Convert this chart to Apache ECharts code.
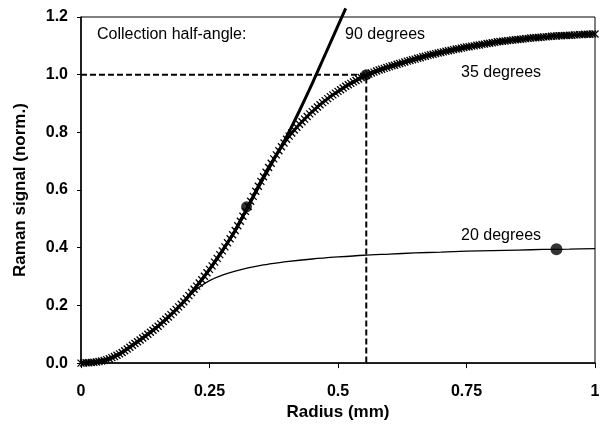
<!DOCTYPE html>
<html>
<head>
<meta charset="utf-8">
<script src="https://cdn.jsdelivr.net/npm/echarts@6/dist/echarts.min.js"></script>
<style>html,body{margin:0;padding:0;background:#fff;}#c{width:603px;height:426px;}</style>
</head>
<body>
<div id="c"></div>
<script>
// ---- data ----
const xTicks = [0, 0.25, 0.5, 0.75, 1];
const yTicks = [0.0, 0.2, 0.4, 0.6, 0.8, 1.0, 1.2];

// 35 degrees (dense hatched curve), radius step 0.005 from 0 to 1
const x35 = [0,0.005,0.01,0.015,0.02,0.025,0.03,0.035,0.04,0.045,0.05,0.055,0.06,0.065,0.07,0.075,0.08,0.085,0.09,0.095,
0.1,0.105,0.11,0.115,0.12,0.125,0.13,0.135,0.14,0.145,0.15,0.155,0.16,0.165,0.17,0.175,0.18,0.185,0.19,0.195,
0.2,0.205,0.21,0.215,0.22,0.225,0.23,0.235,0.24,0.245,0.25,0.255,0.26,0.265,0.27,0.275,0.28,0.285,0.29,0.295,
0.3,0.305,0.31,0.315,0.32,0.325,0.33,0.335,0.34,0.345,0.35,0.355,0.36,0.365,0.37,0.375,0.38,0.385,0.39,0.395,
0.4,0.405,0.41,0.415,0.42,0.425,0.43,0.435,0.44,0.445,0.45,0.455,0.46,0.465,0.47,0.475,0.48,0.485,0.49,0.495,
0.5,0.505,0.51,0.515,0.52,0.525,0.53,0.535,0.54,0.545,0.55,0.555,0.56,0.565,0.57,0.575,0.58,0.585,0.59,0.595,
0.6,0.605,0.61,0.615,0.62,0.625,0.63,0.635,0.64,0.645,0.65,0.655,0.66,0.665,0.67,0.675,0.68,0.685,0.69,0.695,
0.7,0.705,0.71,0.715,0.72,0.725,0.73,0.735,0.74,0.745,0.75,0.755,0.76,0.765,0.77,0.775,0.78,0.785,0.79,0.795,
0.8,0.805,0.81,0.815,0.82,0.825,0.83,0.835,0.84,0.845,0.85,0.855,0.86,0.865,0.87,0.875,0.88,0.885,0.89,0.895,
0.9,0.905,0.91,0.915,0.92,0.925,0.93,0.935,0.94,0.945,0.95,0.955,0.96,0.965,0.97,0.975,0.98,0.985,0.99,0.995,1.0];
const y35 = [0,0.0003,0.001,0.0015,0.002,0.003,0.004,0.0055,0.007,0.009,0.012,0.015,0.019,0.023,0.027,0.032,0.037,0.043,0.049,0.055,
0.062,0.068,0.074,0.08,0.087,0.093,0.1,0.107,0.114,0.121,0.128,0.136,0.144,0.152,0.16,0.168,0.177,0.186,0.195,0.204,
0.213,0.223,0.234,0.245,0.256,0.267,0.278,0.289,0.301,0.313,0.325,0.337,0.35,0.363,0.376,0.389,0.403,0.417,0.431,0.445,
0.46,0.476,0.492,0.509,0.526,0.543,0.561,0.578,0.596,0.613,0.63,0.646,0.662,0.678,0.693,0.708,0.722,0.736,0.75,0.763,
0.776,0.787,0.798,0.808,0.818,0.828,0.837,0.846,0.855,0.864,0.872,0.88,0.888,0.896,0.903,0.91,0.917,0.924,0.93,0.936,
0.942,0.948,0.954,0.96,0.965,0.97,0.975,0.98,0.985,0.99,0.994,0.998,1.002,1.006,1.009,1.013,1.016,1.019,1.022,1.025,
1.028,1.031,1.033,1.036,1.039,1.041,1.044,1.047,1.049,1.052,1.054,1.057,1.059,1.062,1.064,1.067,1.069,1.071,1.073,1.075,
1.077,1.079,1.081,1.083,1.085,1.087,1.089,1.09,1.092,1.094,1.096,1.097,1.099,1.1,1.102,1.103,1.105,1.106,1.108,1.109,
1.111,1.112,1.114,1.115,1.116,1.117,1.118,1.119,1.12,1.121,1.122,1.123,1.124,1.125,1.126,1.127,1.128,1.128,1.129,1.13,
1.131,1.131,1.132,1.133,1.134,1.134,1.135,1.135,1.136,1.136,1.137,1.137,1.138,1.138,1.139,1.139,1.14,1.14,1.14,1.141,1.141];

// 90 degrees (thick solid curve)
const x90 = [0,0.025,0.05,0.075,0.1,0.125,0.15,0.175,0.2,0.225,0.25,0.275,0.3,0.325,0.35,0.375,0.4,0.425,0.45,0.475,0.5,0.515];
const y90 = [0,0.003,0.012,0.032,0.062,0.094,0.128,0.168,0.213,0.267,0.325,0.39,0.46,0.543,0.625,0.705,0.785,0.875,0.97,1.07,1.17,1.23];

// 20 degrees (thin curve)
const x20 = [0,0.025,0.05,0.075,0.1,0.125,0.15,0.175,0.2,0.215,0.23,0.25,0.275,0.3,0.325,0.35,0.375,0.4,0.45,0.5,0.55,0.6,0.65,0.7,0.75,0.8,0.85,0.9,0.95,1.0];
const y20 = [0,0.003,0.012,0.032,0.062,0.094,0.128,0.168,0.212,0.24,0.263,0.286,0.305,0.319,0.33,0.339,0.346,0.352,0.361,0.368,0.374,0.378,0.382,0.385,0.388,0.39,0.392,0.394,0.395,0.397];

// highlighted points on the curves
const dotX = [0.322, 0.555, 0.925];
const dotY = [0.542, 1.0, 0.395];

// dashed guide lines (to the 35-degree point at signal 1.0)
const guideX = [0, 0.555, 0.555];
const guideY = [1.0, 1.0, 0];

// text annotations
const labels = ['Collection half-angle:', '90 degrees', '35 degrees', '20 degrees'];

const zip = (a, b) => a.map((v, i) => [v, b[i]]);
const FONT = "'Liberation Sans', Arial, Helvetica, sans-serif";

const chart = echarts.init(document.getElementById('c'), null, {renderer: 'canvas'});
chart.setOption({
  animation: false,
  backgroundColor: '#fff',
  grid: {left: 81, right: 8, top: 17, bottom: 57, show: true, borderColor: '#000', borderWidth: 1, backgroundColor: 'transparent'},
  xAxis: {
    type: 'value', min: 0, max: 1, interval: 0.25,
    name: 'Radius (mm)', nameLocation: 'middle', nameGap: 37,
    nameTextStyle: {fontFamily: FONT, fontWeight: 'bold', fontSize: 17, color: '#000'},
    axisLine: {show: true, lineStyle: {color: '#000', width: 1.5}},
    axisTick: {show: true, length: 5, lineStyle: {color: '#000'}},
    axisLabel: {fontFamily: FONT, fontWeight: 'bold', fontSize: 16, color: '#000', margin: 20,
      formatter: v => String(xTicks.find(t => Math.abs(t - v) < 1e-9) ?? v)},
    splitLine: {show: false}
  },
  yAxis: {
    type: 'value', min: 0, max: 1.2, interval: 0.2,
    name: 'Raman signal (norm.)', nameLocation: 'middle', nameGap: 52,
    nameTextStyle: {fontFamily: FONT, fontWeight: 'bold', fontSize: 17, color: '#000'},
    axisLine: {show: true, lineStyle: {color: '#000', width: 1.5}},
    axisTick: {show: true, length: 4, lineStyle: {color: '#000'}},
    axisLabel: {fontFamily: FONT, fontWeight: 'bold', fontSize: 16, color: '#000', margin: 13,
      formatter: v => (yTicks.find(t => Math.abs(t - v) < 1e-9) ?? v).toFixed(1)},
    splitLine: {show: false}
  },
  series: [
    {
      name: '20 degrees', type: 'line', data: zip(x20, y20), smooth: 0.3,
      showSymbol: false, lineStyle: {color: '#000', width: 1.3}, z: 2
    },
    {
      name: '90 degrees', type: 'line', data: zip(x90, y90), smooth: 0.2, clip: false,
      showSymbol: false, lineStyle: {color: '#000', width: 3}, z: 3
    },
    {
      name: '35 degrees', type: 'line', data: zip(x35, y35),
      symbol: 'path://M0,0L10,10M10,0L0,10', symbolSize: 7, showSymbol: true,
      itemStyle: {color: '#000', borderColor: '#000', borderWidth: 1.3},
      lineStyle: {color: '#000', width: 3}, z: 4
    },
    {
      name: 'guides', type: 'line', data: zip(guideX, guideY), showSymbol: false,
      lineStyle: {color: '#000', width: 2, type: [6, 3]}, z: 5
    },
    {
      name: 'points', type: 'scatter', data: zip(dotX, dotY), symbol: 'circle',
      symbolSize: (v, p) => p.dataIndex === 2 ? 12 : 11,
      itemStyle: {color: '#000'}, z: 6
    }
  ],
  graphic: [
    {type: 'text', left: 97, top: 27, style: {text: labels[0], font: '16px ' + FONT, fill: '#000'}},
    {type: 'text', left: 345, top: 27, style: {text: labels[1], font: '16px ' + FONT, fill: '#000'}},
    {type: 'text', left: 461, top: 65, style: {text: labels[2], font: '16px ' + FONT, fill: '#000'}},
    {type: 'text', left: 461, top: 228, style: {text: labels[3], font: '16px ' + FONT, fill: '#000'}}
  ]
});
</script>
</body>
</html>
